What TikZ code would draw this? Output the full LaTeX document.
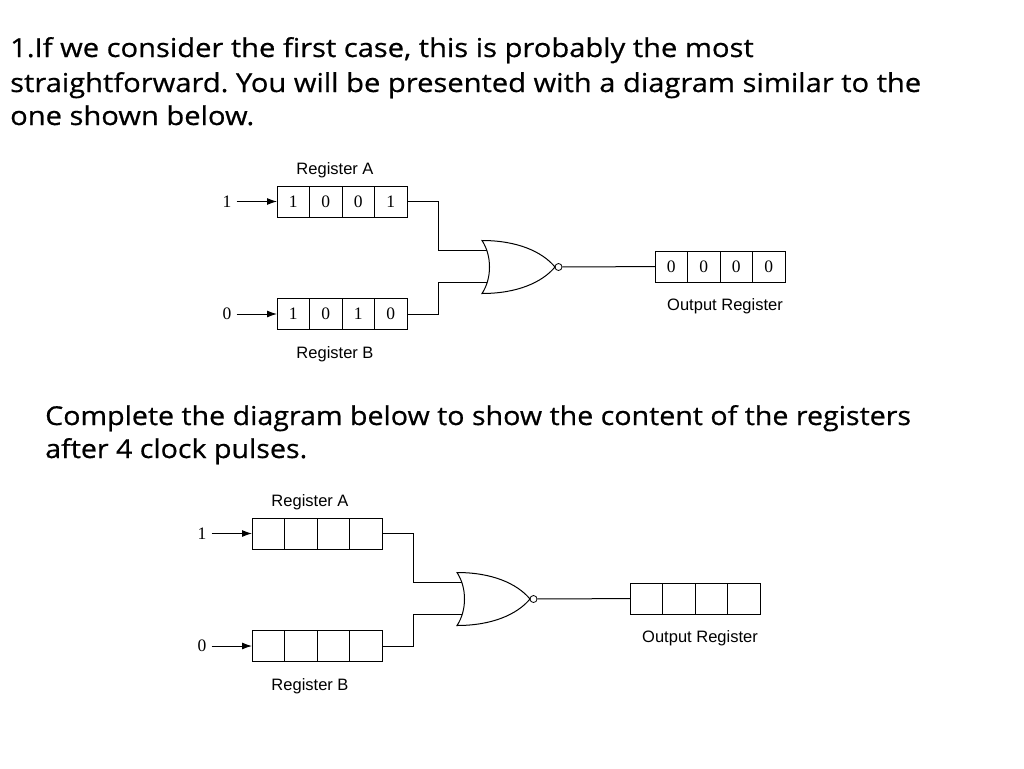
\documentclass[tikz,border=0pt]{standalone}
\usepackage{fontspec}
\setmainfont{Liberation Serif}
\newfontfamily\labelfont{Liberation Sans}
\newfontfamily\bodyfont[FakeStretch=1.12,FakeBold=0.6]{Open Sans}
\newfontfamily\taskfont[FakeStretch=1.10,FakeBold=0.6]{Open Sans}
\usetikzlibrary{positioning,arrows.meta}
\frenchspacing

\tikzset{
  cell/.style={draw, line width=1pt, outer sep=0pt, inner sep=0pt,
    minimum width=32.5pt, minimum height=31pt,
    font=\fontsize{17.5}{17.5}\selectfont},
  bit/.style={inner sep=2pt, inner xsep=5pt, font=\fontsize{17.5}{17.5}\selectfont},
  reglabel/.style={font=\labelfont\fontsize{16.5}{16.5}\selectfont},
  wire/.style={line width=1pt},
  feed/.style={line width=1pt, -{Latex[length=10pt,width=7pt]}},
  para/.style={anchor=base west, inner sep=0pt, font=\bodyfont\fontsize{26}{26}\selectfont},
  task/.style={para, font=\taskfont\fontsize{26}{26}\selectfont},
}

\begin{document}
\begin{tikzpicture}[x=1pt,y=-1pt]

\useasboundingbox (0,0) rectangle (1024,768);
\fill[white] (0,0) rectangle (1024,768);

\node[para] (l1) at (10,57) {1.If we consider the first case, this is probably the most};
\node[para] (l2) at (10,92) {straightforward. You will be presented with a diagram similar to the};
\node[para] (l3) at (10,125) {one shown below.};

% top circuit
\foreach \v [count=\k] in {1,0,0,1}
  \node[cell] (tA\k) at ({260.75+32.5*\k},201.5) {\v};
\foreach \v [count=\k] in {1,0,1,0}
  \node[cell] (tB\k) at ({260.75+32.5*\k},314) {\v};
\foreach \v [count=\k] in {0,0,0,0}
  \node[cell] (tO\k) at ({638.75+32.5*\k},266.5) {\v};

\node[reglabel] (tAlab) at (335,170) {Register A};
\node[reglabel] (tBlab) at (335,354) {Register B};
\node[reglabel] (tOlab) at (725,306) {Output Register};

\node[bit] (tinA) at (227,201.5) {1};
\node[bit] (tinB) at (227,314) {0};
\draw[feed] (tinA) -- (tA1);
\draw[feed] (tinB) -- (tB1);

\draw[wire, shift={(482,240.5)}] (0,0) .. controls (10,15) and (10,38) .. (0,53)
  .. controls (35,53) and (60,42) .. (73,26.5)
  .. controls (60,11) and (35,0) .. cycle;
\node[draw, circle, line width=.8pt, inner sep=0pt, minimum size=7pt] (tnot) at (558.5,267) {};
\coordinate (tin1) at (487,250);
\coordinate (tin2) at (487,282);

\draw[wire] (tA4.east) -- ++(31,0) |- (tin1);
\draw[wire] (tB4.east) -- ++(31,0) |- (tin2);
\draw[wire] (tnot) -- (tO1);

\node[task] (l4) at (45,425) {Complete the diagram below to show the content of the registers};
\node[task] (l5) at (45,458) {after 4 clock pulses.};

% bottom circuit, left empty
\begin{scope}[shift={(-25,332)}]
\foreach \k in {1,...,4} {
  \node[cell] (bA\k) at ({260.75+32.5*\k},201.5) {};
  \node[cell] (bB\k) at ({260.75+32.5*\k},314) {};
  \node[cell] (bO\k) at ({638.75+32.5*\k},266.5) {};
}

\node[reglabel] (bAlab) at (335,170) {Register A};
\node[reglabel] (bBlab) at (335,354) {Register B};
\node[reglabel] (bOlab) at (725,306) {Output Register};

\node[bit] (binA) at (227,201.5) {1};
\node[bit] (binB) at (227,314) {0};
\draw[feed] (binA) -- (bA1);
\draw[feed] (binB) -- (bB1);

\draw[wire, shift={(482,240.5)}] (0,0) .. controls (10,15) and (10,38) .. (0,53)
  .. controls (35,53) and (60,42) .. (73,26.5)
  .. controls (60,11) and (35,0) .. cycle;
\node[draw, circle, line width=.8pt, inner sep=0pt, minimum size=7pt] (bnot) at (558.5,267) {};
\coordinate (bin1) at (487,250);
\coordinate (bin2) at (487,282);

\draw[wire] (bA4.east) -- ++(31,0) |- (bin1);
\draw[wire] (bB4.east) -- ++(31,0) |- (bin2);
\draw[wire] (bnot) -- (bO1);
\end{scope}

\end{tikzpicture}
\end{document}
